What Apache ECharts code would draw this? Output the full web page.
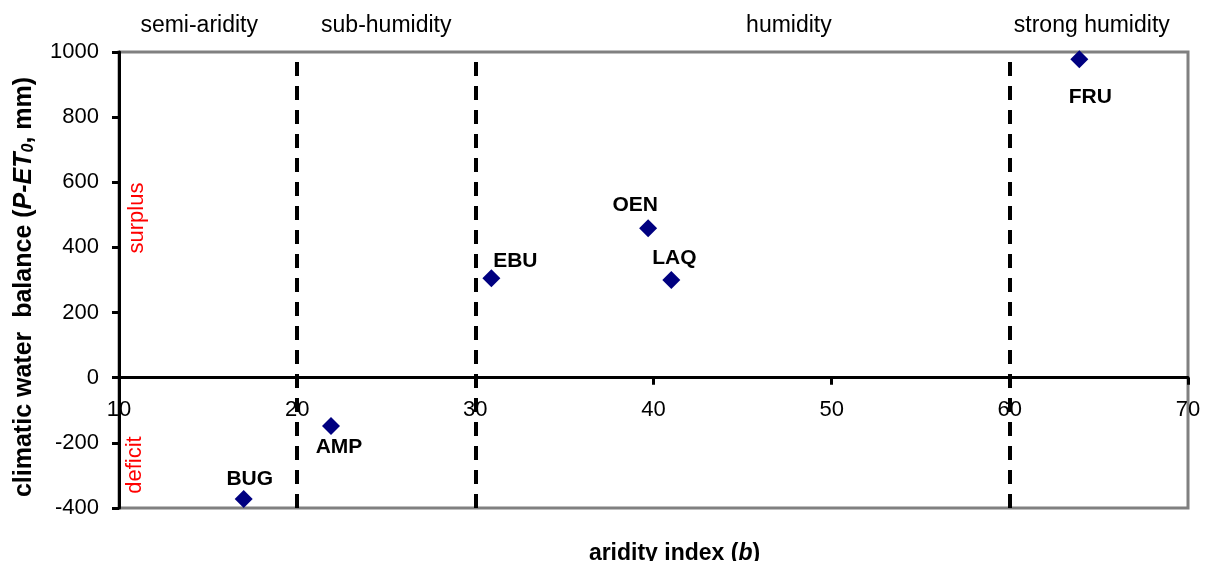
<!DOCTYPE html>
<html>
<head>
<meta charset="utf-8">
<script src="https://cdn.jsdelivr.net/npm/echarts@6/dist/echarts.min.js"></script>
<style>
  html, body { margin: 0; padding: 0; background: #fff; }
  #chart { width: 1210px; height: 561px; }
</style>
</head>
<body>
<div id="chart"></div>
<script>
// 站点数据
const sites = ['BUG', 'AMP', 'EBU', 'OEN', 'LAQ', 'FRU'];
const aridityIndex = [17.0, 21.9, 30.9, 39.7, 41.0, 63.9];
const waterBalance = [-372, -148, 305, 459, 300, 978];

// 气候分区
const zoneNames = ['semi-aridity', 'sub-humidity', 'humidity', 'strong humidity'];
const zoneLabelX = [14.5, 25, 47.6, 64.6];
const zoneBounds = [20, 30, 60];

const xTicks = [10, 20, 30, 40, 50, 60, 70];
const yTicks = [-400, -200, 0, 200, 400, 600, 800, 1000];

// 标签偏移（像素）
const labelOffset = {
  BUG: [6, -20],
  AMP: [8, 21],
  EBU: [24, -17],
  OEN: [-13, -23],
  LAQ: [3, -22],
  FRU: [11, 38]
};

const FONT = '"Liberation Sans", Arial, sans-serif';

// 绘图区
const GRID_TOP = 52, GRID_BOTTOM = 53, CHART_H = 561;
const plotH = CHART_H - GRID_TOP - GRID_BOTTOM;
const yMin = yTicks[0], yMax = yTicks[yTicks.length - 1];
// x轴放在 y=0 处
const zeroShift = plotH * (0 - yMin) / (yMax - yMin);

let myChart = echarts.init(document.getElementById('chart'));

let option = {
  animation: false,
  textStyle: { fontFamily: FONT },
  grid: {
    left: 119, right: 22, top: GRID_TOP, bottom: GRID_BOTTOM,
    outerBoundsMode: 'none',
    containLabel: false,
    show: true,
    borderColor: '#808080',
    borderWidth: 3,
    backgroundColor: 'transparent'
  },
  xAxis: {
    type: 'value',
    min: xTicks[0],
    max: xTicks[xTicks.length - 1],
    interval: 10,
    offset: -zeroShift,
    name: '{a|aridity index (}{i|b}{a|)}',
    nameLocation: 'middle',
    nameGap: 164,
    nameTextStyle: {
      padding: [0, 0, 0, 42],
      rich: {
        a: { fontFamily: FONT, fontSize: 23, fontWeight: 'bold', color: '#000' },
        i: { fontFamily: FONT, fontSize: 23, fontWeight: 'bold', fontStyle: 'italic', color: '#000' }
      }
    },
    axisLine: { onZero: false, lineStyle: { color: '#000', width: 3 } },
    axisTick: { show: true, length: 7, lineStyle: { color: '#000', width: 3 } },
    axisLabel: { color: '#000', fontSize: 22, margin: 21, fontFamily: FONT },
    splitLine: { show: false }
  },
  yAxis: {
    type: 'value',
    min: yMin,
    max: yMax,
    interval: 200,
    name: '{a|climatic water  balance (}{i|P-ET}{s|0}{a|, mm)}',
    nameLocation: 'middle',
    nameGap: 82,
    nameTextStyle: {
      padding: [0, 14, 0, 0],
      rich: {
        a: { fontFamily: FONT, fontSize: 25, fontWeight: 'bold', color: '#000' },
        i: { fontFamily: FONT, fontSize: 25, fontWeight: 'bold', fontStyle: 'italic', color: '#000' },
        s: { fontFamily: FONT, fontSize: 16, fontWeight: 'bold', fontStyle: 'italic', color: '#000', verticalAlign: 'bottom', padding: [10, 0, 0, 0] }
      }
    },
    axisLine: { show: true, onZero: false, lineStyle: { color: '#000', width: 3 } },
    axisTick: { show: true, length: 7, lineStyle: { color: '#000', width: 3 } },
    axisLabel: { color: '#000', fontSize: 22, margin: 20, fontFamily: FONT, formatter: v => String(v) },
    splitLine: { show: false }
  },
  graphic: [
    {
      type: 'text', x: 137, y: 218, rotation: Math.PI / 2,
      style: { text: 'surplus', fill: '#ff0000', font: '22px ' + FONT, textAlign: 'center', textVerticalAlign: 'middle' }
    },
    {
      type: 'text', x: 135, y: 465, rotation: Math.PI / 2,
      style: { text: 'deficit', fill: '#ff0000', font: '22px ' + FONT, textAlign: 'center', textVerticalAlign: 'middle' }
    }
  ],
  series: [
    {
      type: 'scatter',
      symbol: 'diamond',
      symbolSize: 18,
      clip: false,
      itemStyle: { color: '#000080', opacity: 1 },
      z: 5,
      data: sites.map((s, i) => ({
        name: s,
        value: [aridityIndex[i], waterBalance[i]],
        label: {
          show: true,
          position: 'inside',
          offset: labelOffset[s],
          formatter: s,
          color: '#000',
          fontSize: 21,
          fontWeight: 'bold',
          fontFamily: FONT
        }
      })),
      markLine: {
        silent: true,
        symbol: ['none', 'none'],
        label: { show: false },
        lineStyle: { color: '#000', width: 4, type: [14, 10], opacity: 1 },
        data: zoneBounds.map(b => [{ coord: [b, -400] }, { coord: [b, 972] }])
      }
    },
    {
      // 分区名称
      type: 'scatter',
      symbolSize: 0,
      clip: false,
      silent: true,
      itemStyle: { opacity: 1 },
      data: zoneNames.map((n, i) => ({ name: n, value: [zoneLabelX[i], 1000] })),
      label: {
        show: true,
        position: 'inside',
        offset: [0, -26],
        formatter: p => p.name,
        color: '#000',
        fontSize: 23,
        fontFamily: FONT
      }
    }
  ]
};

myChart.setOption(option);
</script>
</body>
</html>
